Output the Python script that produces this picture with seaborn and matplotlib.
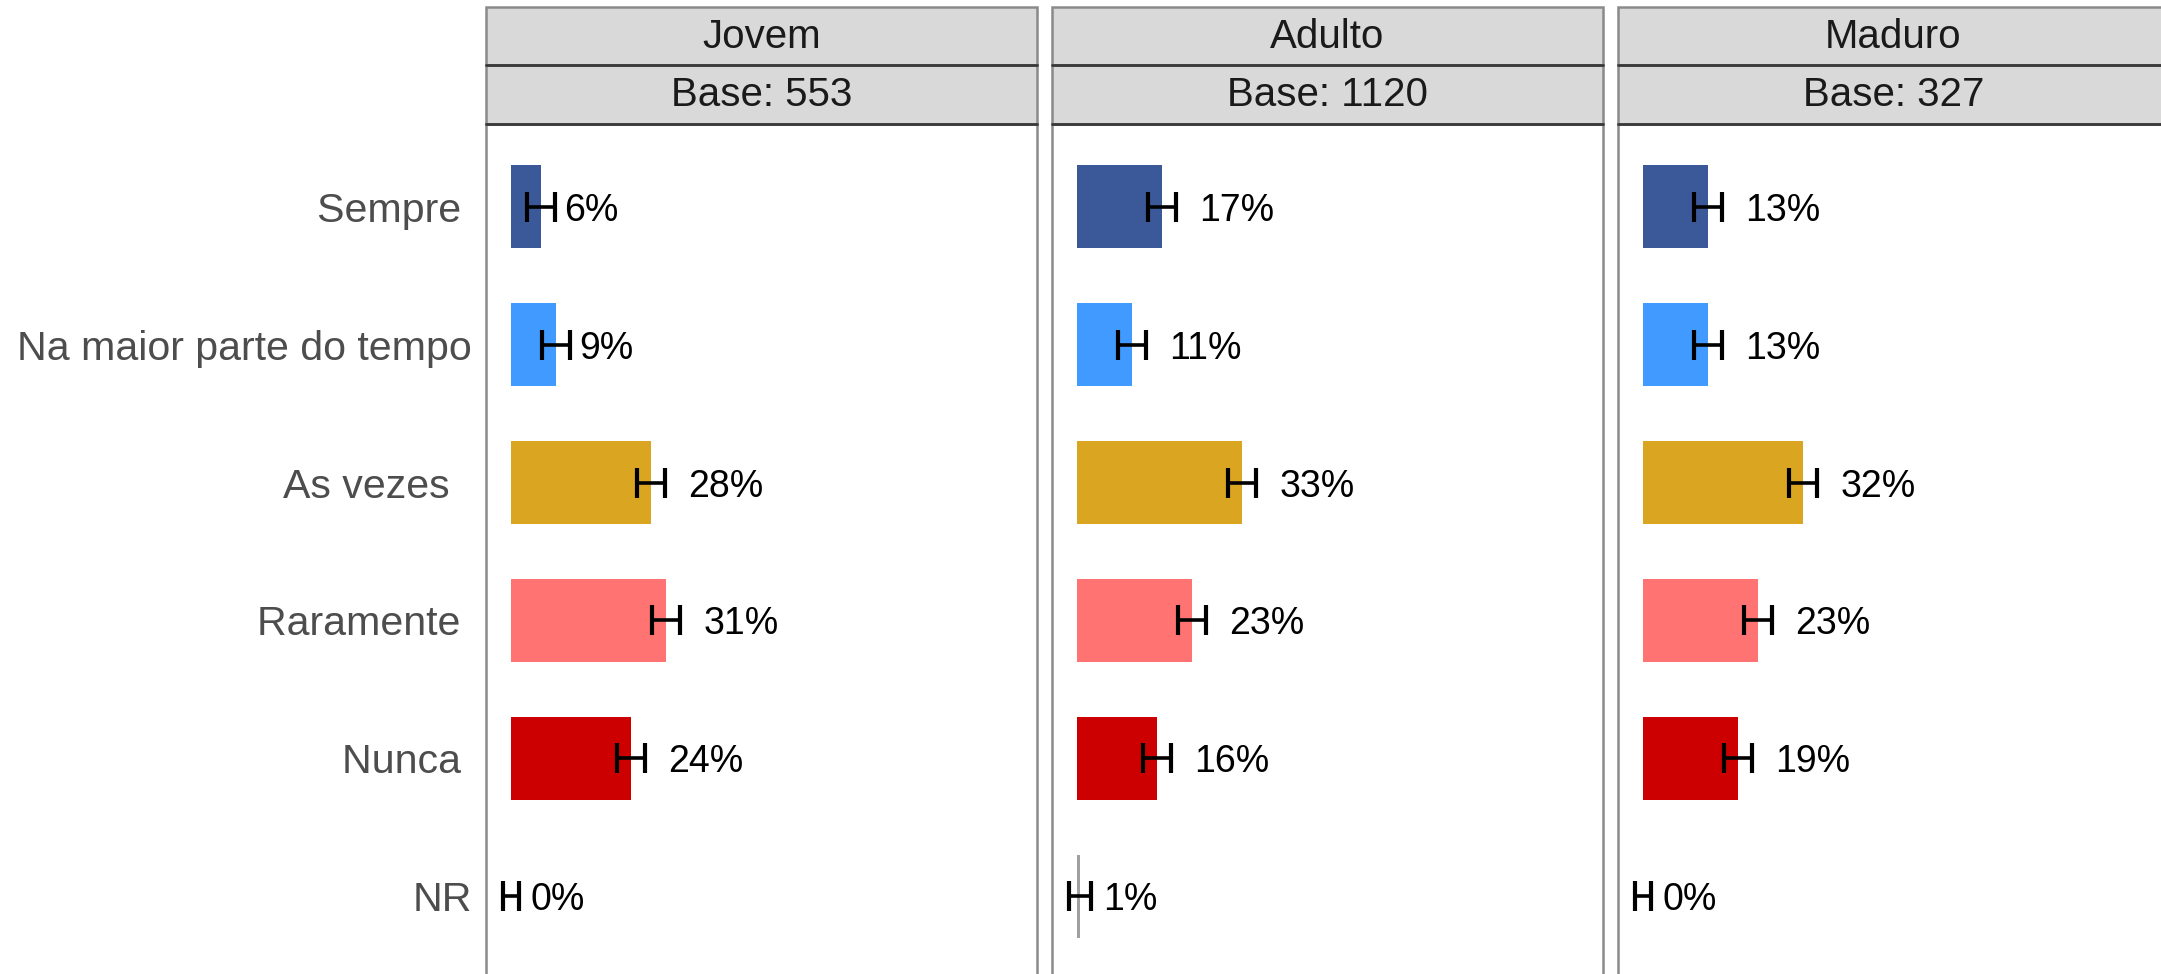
import matplotlib
matplotlib.use("Agg")
import matplotlib.pyplot as plt
from matplotlib.patches import Rectangle
from matplotlib.lines import Line2D
import seaborn as sns
import pandas as pd
import numpy as np

# ---------------- data ----------------
categories = ["Sempre", "Na maior parte do tempo", "As vezes", "Raramente", "Nunca", "NR"]
tick_labels = ["Sempre ", "Na maior parte do tempo", "As vezes  ", "Raramente ", "Nunca ", "NR"]
groups = ["Jovem", "Adulto", "Maduro"]
bases = [553, 1120, 327]
jovem = [6, 9, 28, 31, 24, 0]
adulto = [17, 11, 33, 23, 16, 0.6]
maduro = [13, 13, 32, 23, 19, 0]
err_jovem = [2.8, 2.8, 2.8, 2.8, 2.8, 1.6]
err_adulto = [2.8, 2.8, 2.8, 2.8, 2.8, 2.2]
err_maduro = [2.8, 2.8, 2.8, 2.8, 2.8, 1.6]
colors = ["#3B5998", "#409AFF", "#DAA520", "#FF7373", "#CC0000", "#A0A0A0"]

values = [jovem, adulto, maduro]
errors = [err_jovem, err_adulto, err_maduro]

# ---------------- style ----------------
sns.set_theme(style="white")
plt.rcParams["font.family"] = ["Liberation Sans", "DejaVu Sans"]

W, H = 2161, 974
DPI = 100
fig = plt.figure(figsize=(W / DPI, H / DPI), dpi=DPI)

def fx(px):
    return px / W

def fy(py):
    return 1 - py / H

panel_lefts = [486, 1052, 1618]
panel_w = 551
panel_top = 124
panel_bottom = 979
strip_top = 7
strip_mid = 65

palette = dict(zip(categories, colors))

for i, g in enumerate(groups):
    L = panel_lefts[i]
    ax = fig.add_axes([fx(L), fy(panel_bottom), panel_w / W, (panel_bottom - panel_top) / H])
    df = pd.DataFrame({"cat": categories, "pct": values[i], "err": errors[i]})
    sns.barplot(data=df, x="pct", y="cat", hue="cat", palette=palette, order=categories,
                hue_order=categories, width=0.6, legend=False, ax=ax, orient="h",
                saturation=1, linewidth=0)
    ax.set_xlim(-5, 105)
    ax.set_ylim(len(categories) - 0.4, -0.6)
    ax.set_xlabel("")
    ax.set_ylabel("")
    ax.set_xticks([])
    ax.tick_params(axis="y", length=0, pad=10)
    ax.set_yticks(range(len(categories)))
    if i == 0:
        ax.set_yticklabels(tick_labels, fontsize=29.6, color="#4D4D4D")
    else:
        ax.set_yticklabels([])
    # error-bar "H" marks
    ypos = np.arange(len(categories))
    ax.errorbar(df["pct"], ypos, xerr=df["err"], fmt="none", ecolor="black",
                elinewidth=2.6, capsize=10.5, capthick=3.0, zorder=5)
    # value labels
    for y, v in zip(ypos, df["pct"]):
        r = int(round(v))
        off = 7.4 if r >= 10 else (4.6 if r >= 1 else 3.8)
        ax.text(v + off, y, f"{r}%", ha="left", va="center_baseline", fontsize=27,
                color="black", zorder=6)
    for side in ["left", "right", "top", "bottom"]:
        ax.spines[side].set_visible(True)
        ax.spines[side].set_color("#8A8A8A")
        ax.spines[side].set_linewidth(1.8)

    # strips
    for (t, b, label) in [(strip_top, strip_mid, g), (strip_mid, panel_top, f"Base: {bases[i]}")]:
        rect = Rectangle((fx(L), fy(b)), panel_w / W, (b - t) / H, transform=fig.transFigure,
                         facecolor="#D9D9D9", edgecolor="#8A8A8A", linewidth=1.8, zorder=3)
        fig.add_artist(rect)
        fig.text(fx(L + panel_w / 2), fy((t + b) / 2 + 1), label, ha="center", va="center",
                 fontsize=29, color="#1A1A1A", zorder=4)
    for yy in [strip_mid, panel_top]:
        fig.add_artist(Line2D([fx(L), fx(L + panel_w)], [fy(yy), fy(yy)], transform=fig.transFigure,
                              color="#3A3A3A", linewidth=2.0, zorder=5))

fig.savefig("out.png", dpi=DPI, facecolor="white")
